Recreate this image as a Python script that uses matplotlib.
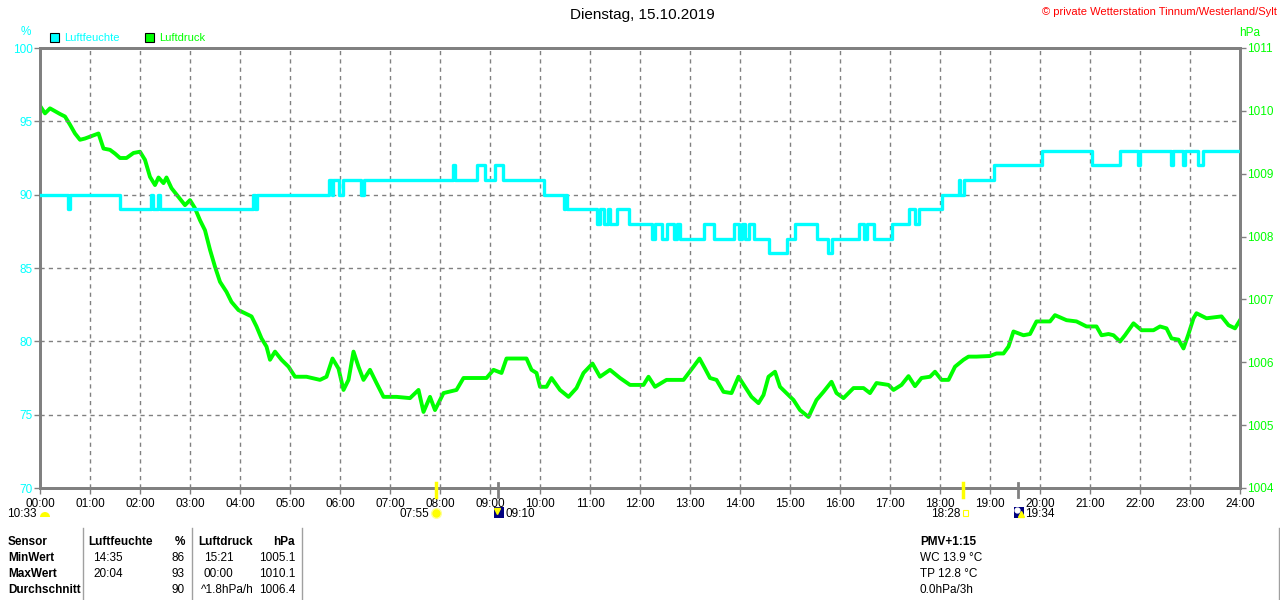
import matplotlib
matplotlib.use("Agg")
import matplotlib.pyplot as plt
import matplotlib.patches as patches
import numpy as np

plt.rcParams['font.family'] = ['Liberation Sans', 'DejaVu Sans']

# humidity (%) - step changes (hour, value)
hum_t = [0, 0.55, 0.6, 1.6, 2.22, 2.26, 2.35, 2.39, 4.27, 4.3, 4.33,
         5.77, 5.83, 5.85, 5.98, 6.05, 6.42, 6.47, 8.26, 8.3, 8.73, 8.9,
         9.1, 9.25, 10.07, 10.47, 10.5, 10.53, 11.13, 11.2, 11.27, 11.35,
         11.4, 11.53, 11.77, 12.23, 12.3, 12.43, 12.53, 12.67, 12.73, 12.8,
         13.27, 13.47, 13.87, 13.97, 14.03, 14.1, 14.17, 14.27, 14.57, 14.93,
         15.1, 15.53, 15.75, 15.83, 16.37, 16.47, 16.53, 16.67, 17.03, 17.37,
         17.5, 17.57, 18.03, 18.37, 18.4, 18.47, 19.07, 20.03, 21.03, 21.6,
         21.95, 22.0, 22.62, 22.65, 22.85, 22.9, 23.15, 23.25, 24]
hum_v = [90, 89, 90, 89, 90, 89, 90, 89, 90, 89, 90,
         91, 90, 91, 90, 91, 90, 91, 92, 91, 92, 91,
         92, 91, 90, 89, 90, 89, 88, 89, 88, 89,
         88, 89, 88, 87, 88, 87, 88, 87, 88, 87,
         88, 87, 88, 87, 88, 87, 88, 87, 86, 87,
         88, 87, 86, 87, 88, 87, 88, 87, 88, 89,
         88, 89, 90, 91, 90, 91, 92, 93, 92, 93,
         92, 93, 92, 93, 92, 93, 92, 93, 93]

# air pressure (hPa)
press_t = [0, 0.1, 0.2, 0.4, 0.5, 0.6, 0.7, 0.8, 0.9, 1.0, 1.17, 1.27, 1.4,
           1.5, 1.6, 1.73, 1.87, 2.0, 2.1, 2.2, 2.3, 2.37, 2.47, 2.53, 2.63,
           2.77, 2.9, 3.0, 3.1, 3.2, 3.3, 3.4, 3.5, 3.6, 3.73, 3.83, 3.97,
           4.1, 4.23, 4.33, 4.43, 4.53, 4.6, 4.7, 4.83, 4.97, 5.1, 5.33, 5.6,
           5.73, 5.85, 5.97, 6.07, 6.17, 6.27, 6.37, 6.47, 6.6, 6.73, 6.87,
           7.13, 7.4, 7.57, 7.67, 7.8, 7.9, 8.07, 8.33, 8.47, 8.93, 9.07,
           9.23, 9.33, 9.73, 9.83, 9.93, 10.0, 10.13, 10.23, 10.4, 10.57,
           10.73, 10.87, 11.05, 11.2, 11.4, 11.6, 11.8, 12.07, 12.17, 12.3,
           12.53, 12.87, 13.07, 13.19, 13.3, 13.4, 13.53, 13.67, 13.83, 13.97,
           14.1, 14.23, 14.37, 14.47, 14.57, 14.7, 14.8, 14.93, 15.07, 15.2,
           15.37, 15.53, 15.67, 15.83, 15.93, 16.07, 16.27, 16.47, 16.6,
           16.73, 16.97, 17.07, 17.23, 17.37, 17.5, 17.63, 17.8, 17.9, 18.03,
           18.17, 18.3, 18.47, 18.57, 18.73, 19.0, 19.13, 19.27, 19.37, 19.47,
           19.67, 19.8, 19.93, 20.2, 20.3, 20.53, 20.73, 20.93, 21.13, 21.23,
           21.37, 21.47, 21.6, 21.7, 21.87, 22.03, 22.27, 22.4, 22.53, 22.63,
           22.77, 22.87, 22.97, 23.07, 23.13, 23.33, 23.63, 23.77, 23.9, 24.0]
press_v = [1010.08, 1009.96, 1010.04, 1009.95, 1009.91, 1009.78, 1009.64,
           1009.54, 1009.56, 1009.59, 1009.64, 1009.40, 1009.38, 1009.32,
           1009.25, 1009.25, 1009.33, 1009.35, 1009.22, 1008.95, 1008.82,
           1008.94, 1008.85, 1008.94, 1008.77, 1008.63, 1008.50, 1008.58,
           1008.45, 1008.26, 1008.10, 1007.79, 1007.52, 1007.28, 1007.12,
           1006.96, 1006.83, 1006.78, 1006.73, 1006.57, 1006.38, 1006.25,
           1006.04, 1006.17, 1006.04, 1005.93, 1005.77, 1005.77, 1005.72,
           1005.77, 1006.06, 1005.90, 1005.56, 1005.72, 1006.17, 1005.93,
           1005.72, 1005.88, 1005.67, 1005.45, 1005.45, 1005.43, 1005.56,
           1005.21, 1005.45, 1005.24, 1005.51, 1005.56, 1005.75, 1005.75,
           1005.88, 1005.83, 1006.06, 1006.06, 1005.88, 1005.83, 1005.61,
           1005.61, 1005.75, 1005.56, 1005.45, 1005.59, 1005.83, 1005.98,
           1005.77, 1005.88, 1005.75, 1005.64, 1005.64, 1005.77, 1005.61,
           1005.72, 1005.72, 1005.93, 1006.06, 1005.90, 1005.75, 1005.72,
           1005.53, 1005.51, 1005.77, 1005.61, 1005.45, 1005.35, 1005.48,
           1005.77, 1005.85, 1005.61, 1005.51, 1005.40, 1005.24, 1005.13,
           1005.40, 1005.53, 1005.69, 1005.51, 1005.43, 1005.59, 1005.59,
           1005.51, 1005.67, 1005.64, 1005.56, 1005.64, 1005.78, 1005.62,
           1005.75, 1005.77, 1005.85, 1005.72, 1005.72, 1005.93, 1006.04,
           1006.09, 1006.09, 1006.10, 1006.14, 1006.14, 1006.25, 1006.49,
           1006.43, 1006.45, 1006.65, 1006.65, 1006.75, 1006.67, 1006.65,
           1006.57, 1006.57, 1006.43, 1006.45, 1006.43, 1006.33, 1006.43,
           1006.62, 1006.51, 1006.51, 1006.57, 1006.54, 1006.38, 1006.36,
           1006.22, 1006.45, 1006.70, 1006.78, 1006.70, 1006.73, 1006.59,
           1006.54, 1006.67]

hour_labels = ["%02d:00" % h for h in range(25)]
hum_ticks = [70, 75, 80, 85, 90, 95, 100]
press_ticks = [1004, 1005, 1006, 1007, 1008, 1009, 1010, 1011]

# sun / moon events below the axis
event_t = [7 + 55 / 60, 9 + 10 / 60, 18 + 28 / 60, 19 + 34 / 60]
event_lbl = ["07:55", "09:10", "18:28", "19:34"]
event_col = ["#ffff00", "#808080", "#ffff00", "#808080"]

# table below the chart
tbl_rows = ["Sensor", "MinWert", "MaxWert", "Durchschnitt"]
hum_time = ["", "14:35", "20:04", ""]
hum_val = ["%", "86", "93", "90"]
press_time = ["", "15:21", "00:00", "^1.8hPa/h"]
press_val = ["hPa", "1005.1", "1010.1", "1006.4"]
extra = ["PMV+1:15", "WC 13.9 °C", "TP 12.8 °C", "0.0hPa/3h"]

CYAN = "#00ffff"
GREEN = "#00ff00"
GRAY = "#808080"
W, H = 1280, 600

fig = plt.figure(figsize=(12.8, 6.0), dpi=100)
ax = fig.add_axes([40 / W, 1 - 488 / H, 1200 / W, 440 / H])
ax2 = ax.twinx()

ax.step(hum_t, hum_v, where='post', color=CYAN, lw=2.4, zorder=3)
ax2.plot(press_t, press_v, color=GREEN, lw=2.8, zorder=3)

ax.set_xlim(0, 24)
ax.set_ylim(70, 100)
ax2.set_ylim(1004, 1011)
ax.set_xticks(range(25))
ax.set_xticklabels(hour_labels)
ax.set_yticks(hum_ticks)
ax.set_yticklabels([str(v) for v in hum_ticks])
ax2.set_yticks(press_ticks)
ax2.set_yticklabels([str(v) for v in press_ticks])

ax.grid(True, color=GRAY, ls=(0, (3, 3)), lw=1)
ax.tick_params(axis='x', colors=GRAY, labelcolor='black', labelsize=8.5,
               length=4, width=1, pad=3)
ax.tick_params(axis='y', colors=GRAY, labelcolor=CYAN, labelsize=8.5,
               length=4, width=1, pad=1)
ax2.tick_params(axis='y', colors=GRAY, labelcolor=GREEN, labelsize=8.5,
                length=4, width=1, pad=1)
for a in (ax, ax2):
    for s in a.spines.values():
        s.set_color(GRAY)
        s.set_linewidth(2)
ax.set_zorder(ax2.get_zorder() + 1)
ax.patch.set_visible(False)

# marker lines for sunrise/moon events
xt = ax.get_xaxis_transform()
for t, c in zip(event_t, event_col):
    ax.plot([t, t], [0.012, -0.02], transform=xt, color=c,
            lw=2.5 if c != GRAY else 2, clip_on=False, zorder=5)

# overlay in pixel coordinates for text around the chart
ov = fig.add_axes([0, 0, 1, 1], zorder=10)
ov.set_xlim(0, W)
ov.set_ylim(H, 0)
ov.axis('off')

ov.text(642, 15, "Dienstag, 15.10.2019", ha='center', va='center', fontsize=11)
ov.text(1277, 12, "© private Wetterstation Tinnum/Westerland/Sylt",
        ha='right', va='center', fontsize=8, color='red')
ov.text(26, 32, "%", ha='center', va='center', fontsize=8.5, color=CYAN)
ov.text(1250, 33, "hPa", ha='center', va='center', fontsize=8.5, color=GREEN)

ov.add_patch(patches.Rectangle((50, 33), 9, 9, facecolor=CYAN, edgecolor='black', lw=0.8))
ov.text(64, 38, "Luftfeuchte", va='center', fontsize=8, color=CYAN)
ov.add_patch(patches.Rectangle((145, 33), 9, 9, facecolor=GREEN, edgecolor='black', lw=0.8))
ov.text(159, 38, "Luftdruck", va='center', fontsize=8, color=GREEN)

# event labels and icons
ov.text(37, 514, "10:33", ha='right', va='center', fontsize=8.5)
ov.add_patch(patches.Wedge((45, 517), 5, 180, 360, facecolor='#ffff00', edgecolor='none'))
ov.text(429, 514, event_lbl[0], ha='right', va='center', fontsize=8.5)
ov.plot(436, 513, 'o', ms=7, color='#ffff00', mec='#ffff99')
ov.add_patch(patches.Rectangle((494, 507), 10, 11, facecolor='#000080'))
ov.plot(497, 511, 'v', ms=4, color='#ffff00')
ov.text(505, 514, event_lbl[1], ha='left', va='center', fontsize=8.5)
ov.text(960, 514, event_lbl[2], ha='right', va='center', fontsize=8.5)
ov.add_patch(patches.Rectangle((963, 510), 5, 6, facecolor='none', edgecolor='#ffff00', lw=0.8))
ov.add_patch(patches.Rectangle((1014, 507), 10, 11, facecolor='#000080'))
ov.plot(1017, 510, 'o', ms=3.5, color='white')
ov.plot(1021, 514, '^', ms=4, color='#ffff00')
ov.text(1025, 514, event_lbl[3], ha='left', va='center', fontsize=8.5)

# stats table
row_y = [542, 558, 574, 590]
for i, y in enumerate(row_y):
    head = 'bold' if i == 0 else 'normal'
    ov.text(8, y, tbl_rows[i], va='center', fontsize=8.5, weight='bold')
    if i == 0:
        ov.text(88, y, "Luftfeuchte", va='center', fontsize=8.5, weight='bold')
        ov.text(198, y, "Luftdruck", va='center', fontsize=8.5, weight='bold')
    else:
        ov.text(93, y, hum_time[i], va='center', fontsize=8.5)
        ov.text(201 if i == 3 else 204, y, press_time[i], va='center', fontsize=8.5)
    ov.text(185, y, hum_val[i], ha='right', va='center', fontsize=8.5, weight=head)
    ov.text(295, y, press_val[i], ha='right', va='center', fontsize=8.5, weight=head)
    ov.text(920, y, extra[i], va='center', fontsize=8.5, weight=head)
for x in (83, 192, 302):
    ov.plot([x, x], [528, 600], color='#a0a0a0', lw=1)
ov.plot([1279, 1279], [528, 600], color='#a0a0a0', lw=1)

fig.savefig("out.png", dpi=100)
